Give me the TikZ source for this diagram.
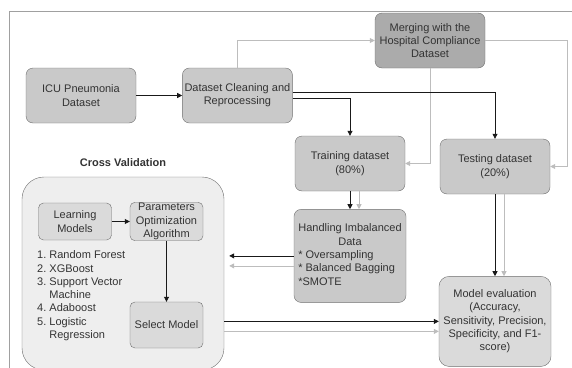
\documentclass[tikz,border=0pt]{standalone}
\usepackage{fontspec}
\setmainfont{Liberation Sans}
\usetikzlibrary{arrows.meta,positioning}
\definecolor{boxgray}{HTML}{C9C9C9}
\definecolor{mergegray}{HTML}{ABABAB}
\definecolor{innergray}{HTML}{DADADA}
\definecolor{cvgray}{HTML}{EEEEEE}
\definecolor{edgegray}{HTML}{6E6E6E}
\definecolor{txtgray}{HTML}{333333}
\definecolor{argray}{HTML}{BDBDBD}
\definecolor{framegray}{HTML}{A0A0A0}
\tikzset{
  box/.style   ={rectangle, rounded corners=7pt, draw=edgegray, fill=boxgray,
                 minimum width=110pt, minimum height=55pt, inner sep=1pt,
                 align=center, text=txtgray, font=\fontsize{11}{13.3}\selectfont},
  mbox/.style  ={box, fill=mergegray},
  ibox/.style  ={box, fill=innergray, minimum width=73pt, minimum height=37pt,
                 rounded corners=5pt},
  ebox/.style  ={box, fill=innergray, minimum width=112pt, minimum height=90pt,
                 rounded corners=10pt},
  cvbox/.style ={rectangle, rounded corners=22pt, draw=edgegray, fill=cvgray,
                 minimum width=202pt, minimum height=193pt},
  lbl/.style   ={inner sep=0pt, text=txtgray, font=\fontsize{11}{13.3}\selectfont},
  arr/.style   ={-{Triangle[length=5pt,width=5pt]}, line width=0.8pt, draw=black!90},
  garr/.style  ={-{Triangle[length=5pt,width=5pt]}, line width=0.8pt, draw=argray}
}

\begin{document}
\begin{tikzpicture}[x=1pt, y=-1pt, node distance=46pt]
\useasboundingbox (0,0) rectangle (572,367);
\draw[framegray, line width=0.8pt] (9,11) rectangle (590,390);

% data preparation
\node[box]   (icu)   at (81,95.5)  {ICU Pneumonia\\Dataset};
\node[box, right=of icu] (clean) {Dataset Cleaning and\\Reprocessing};
\node[mbox]  (merge) at (430,40.5) {Merging with the\\Hospital Compliance\\Dataset};
\node[box]   (train) at (350,163.5) {Training dataset\\(80\%)};
\node[box]   (test)  at (495,166.5) {Testing dataset\\(20\%)};
\node[box, below=18pt of train, minimum width=112pt, minimum height=93pt] (hand)
      {\begin{tabular}{@{}l@{}}
       \multicolumn{1}{@{}c@{}}{Handling Imbalanced}\\
       \multicolumn{1}{@{}c@{}}{Data}\\
       {}* Oversampling\\
       {}* Balanced Bagging\\
       {}*SMOTE
       \end{tabular}};
\node[ebox, below=82pt of test] (eval)
      {Model evaluation\\(Accuracy,\\Sensitivity, Precision,\\Specificity, and F1-\\score)};

% cross validation
\node[lbl, font=\fontsize{11}{13.3}\selectfont\bfseries] (cvlbl) at (123,163) {Cross Validation};
\node[cvbox] (cv) at (123,273.5) {};
\node[ibox]  (learn) at (75,221.5)  {Learning\\Models};
\node[ibox]  (param) at (166.5,221.5) {Parameters\\Optimization\\Algorithm};
\node[ibox, minimum height=46pt] (select) at (166.5,325) {Select Model};
\node[lbl, anchor=west] (models) at (37,296)
      {\begin{tabular}{@{}r@{\ }l@{}}
       1. & Random Forest\\
       2. & XGBoost\\
       3. & Support Vector\\
          & Machine\\
       4. & Adaboost\\
       5. & Logistic\\
          & Regression
       \end{tabular}};

\draw[arr]  (icu) -- (clean);
\draw[garr] (clean.north) |- (merge.west);
\draw[garr] (merge.east) -- ++(82,0) |- (test.east);
\draw[garr] (merge.south) |- (train.east);
\draw[arr]  ([yshift=3.5pt]clean.east) -| (test.north);
\draw[arr]  ([yshift=-2.5pt]clean.east) -| (train.north);
\draw[arr]  (train.south) -- (hand.north);
\draw[garr] ([xshift=9pt]train.south) -- ([xshift=9pt]hand.north);
\draw[arr]  (test.south) -- (eval.north);
\draw[garr] ([xshift=9pt]test.south) -- ([xshift=9pt]eval.north);
\draw[arr]  (hand.west) -- ([xshift=5pt]cv.east |- hand.west);
\draw[garr] ([yshift=-10pt]hand.west) -- ([xshift=5pt,yshift=-10pt]cv.east |- hand.west);
\draw[arr]  (cv.east |- eval.west) -- (eval.west);
\draw[garr] ([yshift=-10pt]cv.east |- eval.west) -- ([yshift=-10pt]eval.west);
\draw[arr]  (learn) -- (param);
\draw[arr]  (param) -- (select);
\end{tikzpicture}
\end{document}
